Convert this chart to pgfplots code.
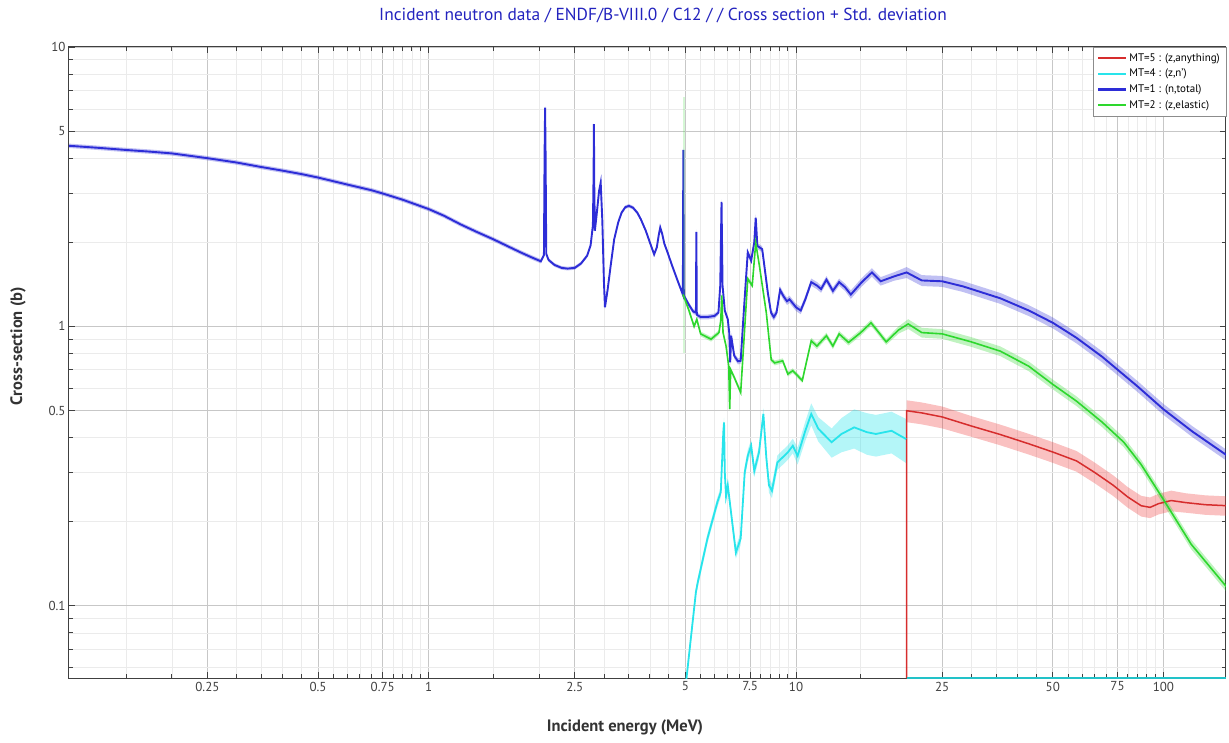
\documentclass[border=0pt]{standalone}
\usepackage{pgfplots}
\pgfplotsset{compat=1.18}
\usepackage{pgfplotstable}
\usepgfplotslibrary{fillbetween}
\usepackage{fontspec}
\setmainfont{PT Sans}

\definecolor{cRed}{RGB}{238,50,50}
\definecolor{cCyan}{RGB}{40,228,235}
\definecolor{cBlue}{RGB}{45,45,215}
\definecolor{cGreen}{RGB}{45,215,45}
\definecolor{cTitle}{RGB}{35,35,190}

% E (MeV), cross section (b), relative std. deviation
\pgfplotstableread{
E s e
0.105 4.43 0.018
0.125 4.36 0.018
0.15 4.28 0.018
0.175 4.22 0.018
0.2 4.16 0.018
0.25 4.0 0.018
0.3 3.86 0.018
0.35 3.72 0.018
0.4 3.61 0.018
0.45 3.51 0.018
0.5 3.41 0.018
0.6 3.22 0.018
0.7 3.07 0.018
0.75 2.99 0.018
0.85 2.84 0.018
1.0 2.63 0.018
1.1 2.49 0.018
1.22 2.32 0.018
1.35 2.18 0.018
1.5 2.05 0.018
1.65 1.93 0.018
1.78 1.84 0.018
1.9 1.77 0.018
2.02 1.71 0.018
2.06 1.80 0.012
2.068 4.0 0.012
2.075 6.07 0.012
2.082 4.0 0.012
2.09 1.82 0.012
2.12 1.73 0.015
2.2 1.66 0.015
2.3 1.62 0.015
2.39 1.61 0.015
2.5 1.62 0.015
2.6 1.68 0.015
2.7 1.79 0.015
2.76 1.95 0.015
2.8 2.3 0.012
2.812 3.5 0.012
2.818 5.29 0.012
2.824 3.2 0.012
2.835 2.20 0.012
2.87 2.55 0.012
2.91 3.05 0.012
2.94 3.27 0.012
2.97 2.4 0.012
3.0 1.45 0.012
3.02 1.17 0.012
3.07 1.35 0.012
3.13 1.65 0.012
3.2 2.05 0.015
3.28 2.35 0.015
3.35 2.55 0.015
3.43 2.67 0.015
3.51 2.70 0.015
3.6 2.66 0.015
3.7 2.55 0.015
3.78 2.42 0.015
3.9 2.2 0.015
4.0 2.0 0.015
4.11 1.81 0.015
4.18 1.92 0.015
4.23 2.12 0.015
4.27 2.26 0.015
4.32 2.15 0.015
4.38 1.98 0.015
4.47 1.84 0.015
4.6 1.65 0.015
4.75 1.47 0.015
4.92 1.30 0.02
4.935 4.28 0.02
4.95 1.29 0.02
5.1 1.20 0.02
5.25 1.13 0.02
5.34 1.12 0.02
5.355 2.18 0.02
5.37 1.10 0.02
5.5 1.08 0.02
5.74 1.08 0.02
6.0 1.09 0.02
6.15 1.12 0.02
6.22 1.4 0.02
6.27 2.79 0.02
6.31 1.4 0.02
6.4 1.14 0.02
6.52 1.06 0.02
6.58 0.95 0.025
6.62 0.743 0.025
6.66 0.926 0.025
6.79 0.785 0.025
6.95 0.75 0.025
7.07 0.753 0.025
7.2 1.1 0.025
7.39 1.84 0.025
7.55 1.72 0.025
7.7 2.0 0.025
7.77 2.45 0.025
7.85 1.94 0.025
8.09 1.89 0.025
8.25 1.55 0.03
8.38 1.32 0.03
8.55 1.12 0.03
8.7 1.08 0.03
8.85 1.12 0.03
9.05 1.35 0.03
9.25 1.28 0.03
9.45 1.23 0.03
9.6 1.25 0.03
10.0 1.17 0.03
10.3 1.14 0.03
10.6 1.25 0.03
11.0 1.44 0.03
11.4 1.40 0.03
11.7 1.36 0.03
12.1 1.47 0.03
12.6 1.34 0.03
13.1 1.44 0.03
13.6 1.38 0.03
14.1 1.30 0.035
15.1 1.44 0.035
16.1 1.56 0.035
17.0 1.45 0.035
18.5 1.51 0.035
20.0 1.56 0.045
22.0 1.46 0.045
25.0 1.45 0.045
28.5 1.39 0.045
36.0 1.26 0.045
43.0 1.14 0.045
50.0 1.03 0.045
58.0 0.91 0.045
68.0 0.78 0.045
85.0 0.61 0.045
100.0 0.505 0.045
120.0 0.42 0.045
150.0 0.343 0.045
}\totaldata

\pgfplotstableread{
E s e
4.92 1.30 0.02
4.95 1.28 0.02
5.1 1.15 0.02
5.28 1.00 0.02
5.37 1.06 0.02
5.5 0.94 0.02
5.87 0.90 0.02
6.17 0.95 0.02
6.24 1.05 0.02
6.28 1.29 0.02
6.33 0.95 0.02
6.45 0.85 0.02
6.56 0.72 0.02
6.60 0.506 0.02
6.64 0.70 0.02
6.79 0.657 0.02
7.07 0.58 0.02
7.2 0.85 0.02
7.39 1.48 0.02
7.6 1.40 0.02
7.77 1.99 0.02
7.95 1.65 0.02
8.3 1.12 0.02
8.56 0.76 0.02
8.75 0.74 0.02
9.2 0.753 0.02
9.5 0.675 0.02
9.8 0.694 0.02
10.4 0.64 0.02
11.0 0.888 0.025
11.4 0.85 0.025
12.1 0.926 0.025
12.6 0.85 0.025
13.1 0.94 0.025
13.9 0.876 0.025
15.0 0.95 0.025
16.0 1.03 0.025
17.6 0.88 0.025
19.0 0.97 0.03
20.2 1.02 0.04
22.0 0.95 0.04
25.0 0.94 0.04
30.0 0.88 0.04
36.0 0.815 0.04
43.0 0.72 0.04
50.0 0.62 0.04
58.0 0.54 0.04
68.0 0.455 0.04
78.0 0.385 0.04
87.0 0.32 0.04
100.0 0.24 0.04
119.0 0.166 0.04
150.0 0.115 0.04
}\elasticdata

\pgfplotstableread{
E s e
4.95 0.045 0.04
5.34 0.112 0.04
5.40 0.121 0.04
5.74 0.174 0.04
6.11 0.235 0.04
6.24 0.255 0.04
6.34 0.418 0.04
6.37 0.453 0.04
6.40 0.30 0.04
6.45 0.247 0.04
6.52 0.27 0.04
6.86 0.155 0.05
7.07 0.174 0.05
7.25 0.30 0.05
7.39 0.344 0.05
7.55 0.374 0.05
7.7 0.304 0.05
7.93 0.354 0.05
8.15 0.486 0.05
8.3 0.34 0.05
8.44 0.27 0.06
8.6 0.258 0.06
8.9 0.326 0.06
9.5 0.354 0.06
9.8 0.374 0.06
10.1 0.344 0.07
10.6 0.423 0.08
11.0 0.486 0.09
11.5 0.43 0.10
12.5 0.385 0.12
13.3 0.412 0.14
14.4 0.435 0.16
15.6 0.418 0.17
16.5 0.412 0.17
18.2 0.423 0.17
19.95 0.395 0.18
}\inelasticdata

% above 20 MeV the (z,n') values are zero and sit on the lower frame
\pgfplotstableread{
E s
20.0 0.055
150.0 0.055
}\inelasticzero

\pgfplotstableread{
E s e
20.0 0.055 0
20.0 0.499 0.09
22.0 0.49 0.09
25.0 0.474 0.09
30.0 0.44 0.085
36.0 0.41 0.085
43.0 0.38 0.085
50.0 0.355 0.085
58.0 0.33 0.085
65.0 0.30 0.085
73.0 0.27 0.085
80.0 0.245 0.085
87.0 0.228 0.085
92.0 0.225 0.085
97.0 0.232 0.085
105.0 0.238 0.085
115.0 0.234 0.08
130.0 0.230 0.08
150.0 0.228 0.08
}\anythingdata

\begin{document}
\begin{tikzpicture}
\begin{axis}[
  at={(0,0)}, anchor=south west,
  scale only axis, width=1157pt, height=631.3pt,
  xmode=log, ymode=log,
  xmin=0.105, xmax=148, ymin=0.055, ymax=10,
  xtick={0.25,0.5,0.75,1,2.5,5,7.5,10,25,50,75,100},
  xticklabels={0.25,0.5,0.75,1,2.5,5,7.5,10,25,50,75,100},
  minor xtick={0.15,0.2,0.3,0.35,0.4,0.45,0.55,0.6,0.65,0.7,0.8,0.85,0.9,0.95,1.5,2,3,3.5,4,4.5,5.5,6,6.5,7,8,8.5,9,9.5,15,20,30,35,40,45,55,60,65,70,80,85,90,95},
  ytick={0.1,0.5,1,5,10},
  yticklabels={0.1,0.5,1,5,10},
  minor ytick={0.06,0.07,0.08,0.09,0.2,0.3,0.4,0.6,0.7,0.8,0.9,2,3,4,6,7,8,9},
  grid=both,
  major grid style={draw=black!22, line width=0.7pt},
  minor grid style={draw=black!8, line width=0.6pt},
  tick align=inside,
  major tick length=6pt, minor tick length=4pt,
  tick style={black!75, line width=0.8pt},
  axis line style={black!75, line width=1pt},
  ticklabel style={font=\fontsize{13}{15}\selectfont, text=black!75},
  legend style={at={(1,1)}, anchor=north east, draw=black!45, fill=white,
    font=\fontsize{11}{13}\selectfont, inner xsep=4pt, inner ysep=4pt,
    row sep=2.5pt, cells={anchor=west}},
  legend image code/.code={\draw[#1, line width=2.2pt] (0pt,0pt) -- (28pt,0pt);},
]
% MT=5 (z,anything)
\addplot[name path=rU, draw=none, forget plot] table[x=E, y expr=\thisrow{s}*(1+\thisrow{e})]{\anythingdata};
\addplot[name path=rL, draw=none, forget plot] table[x=E, y expr=\thisrow{s}*(1-\thisrow{e})]{\anythingdata};
\addplot[cRed, fill opacity=0.3, draw=none, forget plot] fill between[of=rU and rL];
\addplot[cRed!90!black, line width=1.5pt] table[x=E, y=s]{\anythingdata};
\addlegendentry{MT=5 : (z,anything)}
% MT=4 (z,n')
\addplot[name path=cU, draw=none, forget plot] table[x=E, y expr=\thisrow{s}*(1+\thisrow{e})]{\inelasticdata};
\addplot[name path=cL, draw=none, forget plot] table[x=E, y expr=\thisrow{s}*(1-\thisrow{e})]{\inelasticdata};
\addplot[cCyan, fill opacity=0.35, draw=none, forget plot] fill between[of=cU and cL];
\addplot[cCyan!85!black, line width=1.8pt, forget plot] table[x=E, y=s]{\inelasticzero};
\addplot[cCyan, line width=1.8pt] table[x=E, y=s]{\inelasticdata};
\addlegendentry{MT=4 : (z,n')}
% MT=1 (n,total)
\addplot[name path=tU, draw=none, forget plot] table[x=E, y expr=\thisrow{s}*(1+\thisrow{e})]{\totaldata};
\addplot[name path=tL, draw=none, forget plot] table[x=E, y expr=\thisrow{s}*(1-\thisrow{e})]{\totaldata};
\addplot[cBlue, fill opacity=0.3, draw=none, forget plot] fill between[of=tU and tL];
\addplot[cBlue, line width=1.9pt] table[x=E, y=s]{\totaldata};
\addlegendentry{MT=1 : (n,total)}
% MT=2 (z,elastic)
\addplot[fill=cGreen, fill opacity=0.2, draw=none, forget plot] coordinates {(4.91,0.80) (4.91,6.6) (4.99,6.6) (4.99,0.80)} -- cycle;
\addplot[name path=gU, draw=none, forget plot] table[x=E, y expr=\thisrow{s}*(1+\thisrow{e})]{\elasticdata};
\addplot[name path=gL, draw=none, forget plot] table[x=E, y expr=\thisrow{s}*(1-\thisrow{e})]{\elasticdata};
\addplot[cGreen, fill opacity=0.3, draw=none, forget plot] fill between[of=gU and gL];
\addplot[cGreen, line width=1.6pt] table[x=E, y=s]{\elasticdata};
\addlegendentry{MT=2 : (z,elastic)}
\end{axis}
\node[font=\fontsize{17.4}{20}\selectfont, text=cTitle] at (594pt,662.3pt)
  {Incident neutron data / ENDF/B-VIII.0 / C12 / / Cross section + Std. deviation};
\node[font=\bfseries\fontsize{16.5}{19}\selectfont, text=black!80] at (556pt,-48.7pt) {Incident energy (MeV)};
\node[font=\bfseries\fontsize{16.5}{19}\selectfont, text=black!80, rotate=90] at (-51pt,332pt) {Cross-section (b)};
\pgfresetboundingbox
\path (-69pt,-64.7pt) rectangle (1160pt,678.3pt);
\end{tikzpicture}
\end{document}
